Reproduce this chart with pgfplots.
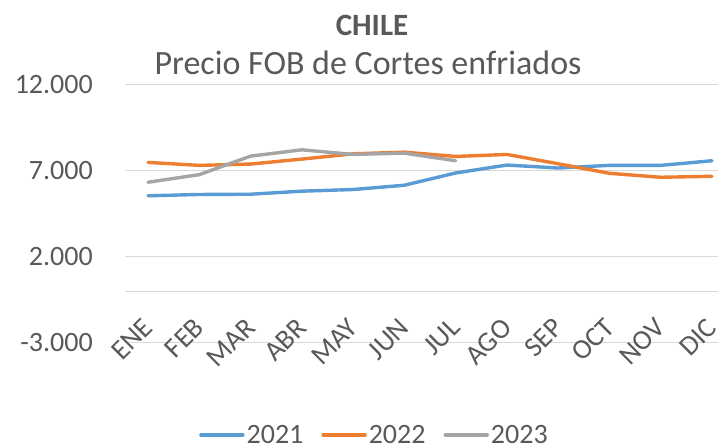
\documentclass[border=0pt]{standalone}
\usepackage{pgfplots}
\pgfplotsset{compat=1.18}
\usepackage{fontspec}
\setmainfont{Carlito}
\definecolor{c21}{HTML}{5B9BD5}
\definecolor{c22}{HTML}{ED7D31}
\definecolor{c23}{HTML}{A5A5A5}
\definecolor{txt}{HTML}{595959}
\definecolor{grd}{HTML}{D9D9D9}
\begin{document}
\begin{tikzpicture}
\begin{axis}[
  at={(125pt,104pt)}, anchor=south west,
  scale only axis, width=593pt, height=258pt,
  xmin=-0.449, xmax=11.117,
  ymin=-3000, ymax=12000,
  scaled y ticks=false,
  axis line style={draw=none},
  major tick length=0pt,
  xtick={0,...,11},
  xticklabels={ENE,FEB,MAR,ABR,MAY,JUN,JUL,AGO,SEP,OCT,NOV,DIC},
  xticklabel shift=-20pt,
  xticklabel style={rotate=45, anchor=east, inner sep=0pt, font=\fontsize{28}{30}\selectfont, text=txt},
  ytick={-3000,2000,7000,12000},
  yticklabels={-3.000,2.000,7.000,12.000},
  yticklabel style={anchor=east, inner sep=0pt, xshift=-32pt, font=\fontsize{28}{30}\selectfont, text=txt},
  ymajorgrids, grid style={grd, line width=1pt},
  extra y ticks={0}, extra y tick labels={},
  extra y tick style={grid=major, grid style={grd, line width=1pt}},
  clip=false,
  legend columns=3,
  legend style={at={(0.4207,-0.357)}, anchor=center, draw=none, fill=none,
    font=\fontsize{28}{30}\selectfont, text=txt,
    /tikz/every even column/.append style={column sep=16pt}},
  legend image code/.code={\draw[#1] (0pt,0pt) -- (42pt,0pt);},
  every axis plot/.append style={line width=3.4pt, line join=round, line cap=round},
]
\addplot[c21] coordinates {(0,5558) (1,5635) (2,5650) (3,5827) (4,5923) (5,6173) (6,6885) (7,7346) (8,7173) (9,7327) (10,7327) (11,7596)};
\addlegendentry{2021}
\addplot[c22] coordinates {(0,7500) (1,7327) (2,7404) (3,7692) (4,8000) (5,8096) (6,7846) (7,7962) (8,7420) (9,6865) (10,6635) (11,6692)};
\addlegendentry{2022}
\addplot[c23] coordinates {(0,6346) (1,6788) (2,7865) (3,8231) (4,7962) (5,8038) (6,7596)};
\addlegendentry{2023}
\end{axis}
\node[anchor=base, text=txt, font=\fontsize{31}{34}\selectfont\bfseries, inner sep=0pt] at (372pt,411pt) {CHILE};
\node[anchor=base, text=txt, font=\fontsize{34}{38}\selectfont, inner sep=0pt] at (368pt,372pt) {Precio FOB de Cortes enfriados};
\pgfresetboundingbox
\path (0pt,0pt) rectangle (718pt,447pt);
\end{tikzpicture}
\end{document}
